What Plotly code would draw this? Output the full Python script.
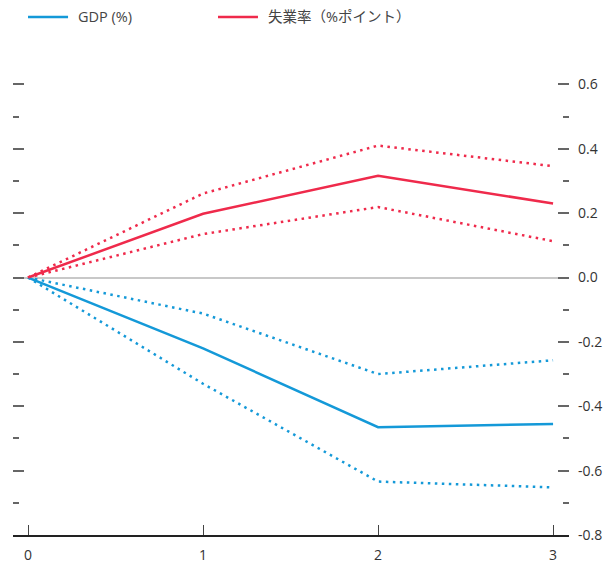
import plotly.graph_objects as go

# Quarters after the shock
quarters = [0, 1, 2, 3]

# GDP response (%) with upper / lower bands
gdp = [0.0, -0.22, -0.465, -0.455]
gdp_upper = [0.0, -0.112, -0.30, -0.257]
gdp_lower = [0.0, -0.33, -0.634, -0.652]

# Unemployment-rate response (percentage points) with upper / lower bands
unemp = [0.0, 0.198, 0.316, 0.23]
unemp_upper = [0.0, 0.261, 0.41, 0.346]
unemp_lower = [0.0, 0.135, 0.219, 0.113]

y_tickvals = [0.6, 0.4, 0.2, 0.0, -0.2, -0.4, -0.6, -0.8]
y_ticktext = ["0.6", "0.4", "0.2", "0.0", "-0.2", "-0.4", "-0.6", "-0.8"]

series_names = ["GDP (%)", "失業率（%ポイント）"]

BLUE = "#1499d8"
RED = "#ef2a4b"
FONT = "Open Sans, Noto Sans CJK JP, sans-serif"

fig = go.Figure()

def add_band(y, color):
    fig.add_trace(go.Scatter(
        x=quarters, y=y, mode="lines", showlegend=False,
        line=dict(color=color, width=2.5, dash="2.5px,4.5px"), hoverinfo="skip",
    ))

add_band(gdp_upper, BLUE)
add_band(gdp_lower, BLUE)
add_band(unemp_upper, RED)
add_band(unemp_lower, RED)

fig.add_trace(go.Scatter(
    x=quarters, y=gdp, mode="lines", name=series_names[0], showlegend=False,
    line=dict(color=BLUE, width=2.5),
))
fig.add_trace(go.Scatter(
    x=quarters, y=unemp, mode="lines", name=series_names[1], showlegend=False,
    line=dict(color=RED, width=2.5),
))

# Legend row above the plot: a colour key line followed by its label
legend_y = 1.1335
for (x0, x1, xt), color, label in zip(
    [(0.027, 0.099, 0.113), (0.3687, 0.4406, 0.4550)], [BLUE, RED], series_names
):
    fig.add_shape(type="line", xref="paper", yref="paper",
                  x0=x0, x1=x1, y0=legend_y, y1=legend_y,
                  line=dict(color=color, width=2.5))
    fig.add_annotation(xref="paper", yref="paper", x=xt, y=legend_y,
                       xanchor="left", yanchor="middle", showarrow=False,
                       text=label, font=dict(size=14.5, color="#444444"))

fig.update_layout(
    width=613, height=566,
    margin=dict(l=13, r=44, t=78, b=31),
    paper_bgcolor="white", plot_bgcolor="white",
    font=dict(family=FONT, size=14, color="#333333"),
    showlegend=False,
)

fig.update_xaxes(
    range=[-0.086, 3.091], tickvals=quarters, ticktext=[str(q) for q in quarters],
    showgrid=False, zeroline=False, automargin=False,
    showline=True, linecolor="#222222", linewidth=1.5,
    ticks="inside", ticklen=10, tickwidth=1.2, tickcolor="#444444",
    tickfont=dict(size=14, color="#333333"),
    ticklabelstandoff=6,
)
fig.update_yaxes(
    side="right", range=[-0.8, 0.62], automargin=False,
    tickvals=y_tickvals, ticktext=y_ticktext,
    showgrid=False, showline=False,
    zeroline=True, zerolinecolor="#c8c8c8", zerolinewidth=2,
    ticks="inside", ticklen=11, tickwidth=1.5, tickcolor="#666666",
    mirror="ticks",
    minor=dict(dtick=0.1, tick0=0, ticks="inside", ticklen=6, tickwidth=1.5,
               tickcolor="#666666", showgrid=False),
    tickfont=dict(size=14, color="#333333"),
    ticklabelstandoff=8,
)

fig.write_html("out.html")
